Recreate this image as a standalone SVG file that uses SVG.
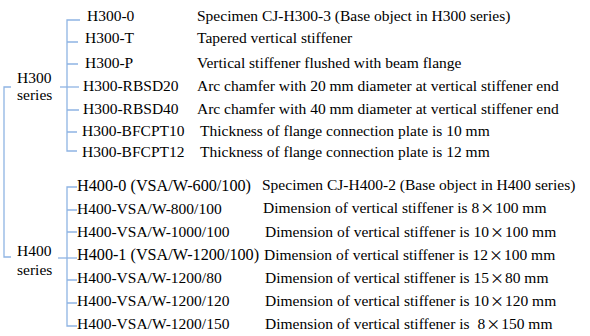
<svg xmlns="http://www.w3.org/2000/svg" width="590" height="336" viewBox="0 0 590 336">
<style>
text{font-family:"Liberation Serif","Times New Roman",serif;font-size:15.5px;fill:#000}
text.w{font-size:16.2px}
.c{fill:none;stroke:#8FB4E3;stroke-width:1.3}
.x{font-family:"Noto Sans CJK SC","Liberation Serif",sans-serif;font-size:14px}
</style>
<rect width="590" height="336" fill="#fff"/>
<g id="connectors" class="c">
<path d="M11,87H4V257H11"/>
<path d="M60,87H79"/>
<path d="M80,20H67V151H77"/>
<path d="M67,42H78M67,64H78M67,110H79M67,132H77"/>
<path d="M58,258H77"/>
<path d="M77,187H67V326H77"/>
<path d="M67,210H77M67,232H77M67,280H77M67,303H77"/>
</g>
<g id="h300"><text x="17" y="83">H300</text><text x="17" y="100">series</text></g>
<g id="h400"><text x="17" y="256">H400</text><text x="17" y="275">series</text></g>
<g id="h300-0"><text x="87" y="21">H300-0</text><text x="197" y="21">Specimen CJ-H300-3 (Base object in H300 series)</text></g>
<g id="h300-t"><text x="85" y="43">H300-T</text><text x="197" y="43">Tapered vertical stiffener</text></g>
<g id="h300-p"><text x="85" y="68">H300-P</text><text x="197" y="68">Vertical stiffener flushed with beam flange</text></g>
<g id="h300-rbsd20"><text x="83" y="91">H300-RBSD20</text><text x="197" y="91">Arc chamfer with 20 mm diameter at vertical stiffener end</text></g>
<g id="h300-rbsd40"><text x="83" y="114">H300-RBSD40</text><text x="197" y="114">Arc chamfer with 40 mm diameter at vertical stiffener end</text></g>
<g id="h300-bfcpt10"><text x="82" y="136">H300-BFCPT10</text><text x="200" y="136">Thickness of flange connection plate is 10 mm</text></g>
<g id="h300-bfcpt12"><text x="82" y="157">H300-BFCPT12</text><text x="200" y="157">Thickness of flange connection plate is 12 mm</text></g>
<g id="h400-0"><text class="w" x="77" y="191">H400-0 (VSA/W-600/100)</text><text x="262" y="190">Specimen CJ-H400-2 (Base object in H400 series)</text></g>
<g id="h400-800"><text x="77" y="214">H400-VSA/W-800/100</text><text x="263" y="213">Dimension of vertical stiffener is 8<tspan class="x" dx="1">×</tspan><tspan dx="1">100 mm</tspan></text></g>
<g id="h400-1000"><text x="77" y="237">H400-VSA/W-1000/100</text><text x="265" y="237">Dimension of vertical stiffener is 10<tspan class="x" dx="1">×</tspan><tspan dx="1">100 mm</tspan></text></g>
<g id="h400-1"><text class="w" x="77" y="260">H400-1 (VSA/W-1200/100)</text><text x="264" y="260">Dimension of vertical stiffener is 12<tspan class="x" dx="1">×</tspan><tspan dx="1">100 mm</tspan></text></g>
<g id="h400-1200-80"><text x="77" y="283">H400-VSA/W-1200/80</text><text x="265" y="283">Dimension of vertical stiffener is 15<tspan class="x" dx="1">×</tspan><tspan dx="1">80 mm</tspan></text></g>
<g id="h400-1200-120"><text x="77" y="306">H400-VSA/W-1200/120</text><text x="265" y="306">Dimension of vertical stiffener is 10<tspan class="x" dx="1">×</tspan><tspan dx="1">120 mm</tspan></text></g>
<g id="h400-1200-150"><text x="77" y="329">H400-VSA/W-1200/150</text><text x="265" y="329">Dimension of vertical stiffener is <tspan dx="4">8</tspan><tspan class="x" dx="1">×</tspan><tspan dx="1">150 mm</tspan></text></g>
</svg>
